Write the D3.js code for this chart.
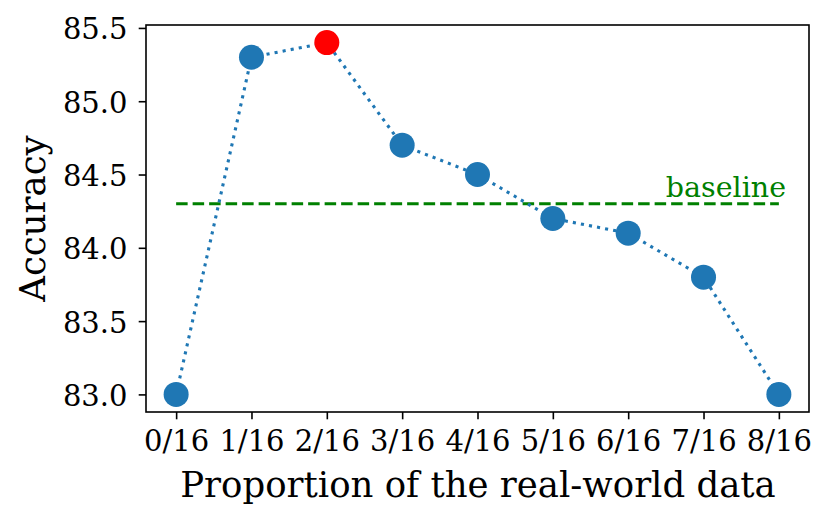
<!DOCTYPE html>
<html><head><meta charset="utf-8">
<script src="https://cdn.jsdelivr.net/npm/d3@7"></script>
<style>body{margin:0;background:#fff}svg{display:block}text{font-family:"DejaVu Serif",serif}</style>
</head><body><svg id="c" width="830" height="520"></svg>
<script>
const categories = ["0/16","1/16","2/16","3/16","4/16","5/16","6/16","7/16","8/16"];
const accuracy = [83.0, 85.3, 85.4, 84.7, 84.5, 84.2, 84.1, 83.8, 83.0];
const highlightIndex = 2;
const baselineValue = 84.3;
const baselineLabel = "baseline";
const yTicks = [83.0, 83.5, 84.0, 84.5, 85.0, 85.5];
const xLabel = "Proportion of the real-world data";
const yLabel = "Accuracy";

const svg = d3.select("#c");
const L = 146, R = 809, T = 25, B = 412;
const x = d3.scaleLinear().domain([-0.4, 8.4]).range([L, R]);
const y = d3.scaleLinear().domain([82.88, 85.52]).range([B, T]);

// baseline
svg.append("line").attr("x1", x(0)).attr("x2", x(8)).attr("y1", y(baselineValue)).attr("y2", y(baselineValue))
  .attr("stroke", "green").attr("stroke-width", 3).attr("stroke-dasharray", "11.5,5");
svg.append("text").attr("x", x(6.5)).attr("y", y(84.35)).attr("fill", "green").attr("font-size", 28.5).text(baselineLabel);

// line
const line = d3.line().x((d, i) => x(i)).y(d => y(d));
svg.append("path").datum(accuracy).attr("d", line).attr("fill", "none")
  .attr("stroke", "#1f77b4").attr("stroke-width", 3.1).attr("stroke-dasharray", "3.1,5.1");
svg.selectAll("circle.pt").data(accuracy).enter().append("circle")
  .attr("cx", (d, i) => x(i)).attr("cy", d => y(d)).attr("r", 12.5)
  .attr("fill", (d, i) => i === highlightIndex ? "#ff0000" : "#1f77b4");

// axes
const xa = svg.append("g").attr("transform", `translate(0,${B})`)
  .call(d3.axisBottom(x).tickValues(d3.range(categories.length)).tickFormat(i => categories[i]).tickSizeInner(7.3).tickSizeOuter(0));
const ya = svg.append("g").attr("transform", `translate(${L},0)`)
  .call(d3.axisLeft(y).tickValues(yTicks).tickFormat(d3.format(".1f")).tickSizeInner(7.3).tickSizeOuter(0));
[xa, ya].forEach(g => {
  g.select(".domain").remove();
  g.selectAll(".tick line").attr("stroke", "#000").attr("stroke-width", 1.6);
  g.selectAll(".tick text").attr("font-size", 29).attr("font-family", "DejaVu Serif").attr("fill", "#000");
});
xa.selectAll(".tick text").attr("y", 39).attr("dy", 0);
ya.selectAll(".tick text").attr("x", -18.5).attr("dy", "0.38em");
svg.append("rect").attr("x", L).attr("y", T).attr("width", R - L).attr("height", B - T)
  .attr("fill", "none").attr("stroke", "#000").attr("stroke-width", 1.6);

svg.append("text").attr("x", (L + R) / 2 + 0.5).attr("y", 497).attr("text-anchor", "middle").attr("font-size", 35.5).text(xLabel);
svg.append("text").attr("transform", `translate(45,${(T + B) / 2}) rotate(-90)`).attr("text-anchor", "middle").attr("font-size", 35.5).text(yLabel);
</script></body></html>
